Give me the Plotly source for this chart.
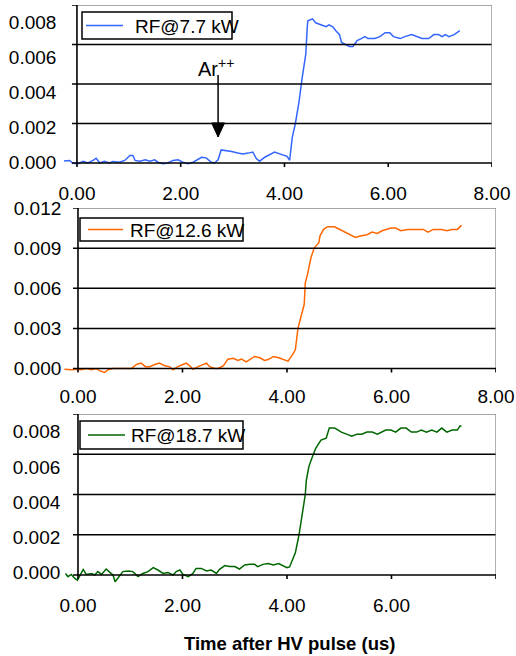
import plotly.graph_objects as go

# ---- data: signal vs. time after the HV pulse (us) ----
t_77 = [-0.25, -0.14, -0.08, 0.02, 0.12, 0.21, 0.31, 0.37, 0.44, 0.53, 0.63, 0.69, 0.82, 0.92,
        1.02, 1.08, 1.12, 1.21, 1.32, 1.40, 1.50, 1.56, 1.66, 1.75, 1.85, 1.95, 2.04, 2.14,
        2.24, 2.33, 2.40, 2.49, 2.59, 2.65, 2.72, 2.78, 2.88, 2.98, 3.10, 3.20, 3.30, 3.39,
        3.46, 3.52, 3.62, 3.71, 3.81, 3.91, 4.00, 4.05, 4.10, 4.15, 4.21, 4.28, 4.34, 4.41,
        4.44, 4.45, 4.54, 4.60, 4.70, 4.80, 4.86, 4.93, 4.99, 5.06, 5.10, 5.19, 5.25, 5.32,
        5.40, 5.48, 5.55, 5.61, 5.74, 5.84, 5.94, 6.03, 6.10, 6.23, 6.32, 6.45, 6.55, 6.65,
        6.78, 6.88, 6.97, 7.04, 7.10, 7.17, 7.27, 7.33, 7.38]
s_77 = [0.00010, 0.00013, -0.00001, -0.00004, 0.00008, 0.00000, 0.00013, 0.00024, 0.00000,
        0.00009, 0.00000, 0.00008, 0.00004, 0.00013, 0.00038, 0.00038, 0.00013, 0.00009,
        0.00016, 0.00009, 0.00016, 0.00004, -0.00004, 0.00000, 0.00013, 0.00016, 0.00004,
        -0.00004, 0.00004, 0.00016, 0.00029, 0.00026, 0.00004, 0.00000, 0.00016, 0.00066,
        0.00063, 0.00058, 0.00051, 0.00046, 0.00050, 0.00055, 0.00021, 0.00009, 0.00029,
        0.00041, 0.00055, 0.00046, 0.00040, 0.00034, 0.00014, 0.00130, 0.00200, 0.00310,
        0.00430, 0.00550, 0.00690, 0.00720, 0.00730, 0.00710, 0.00700, 0.00690, 0.00700,
        0.00690, 0.00670, 0.00650, 0.00610, 0.00600, 0.00590, 0.00590, 0.00620, 0.00630,
        0.00640, 0.00630, 0.00630, 0.00640, 0.00660, 0.00660, 0.00640, 0.00630, 0.00640,
        0.00650, 0.00640, 0.00630, 0.00630, 0.00650, 0.00650, 0.00640, 0.00650, 0.00640,
        0.00650, 0.00660, 0.00670]

t_126 = [-0.26, -0.13, -0.03, 0.06, 0.16, 0.26, 0.35, 0.41, 0.51, 0.57, 0.67, 0.80, 1.02,
         1.12, 1.21, 1.29, 1.37, 1.47, 1.56, 1.66, 1.75, 1.82, 1.91, 2.01, 2.07, 2.14, 2.20,
         2.30, 2.36, 2.46, 2.52, 2.62, 2.68, 2.78, 2.87, 2.97, 3.06, 3.13, 3.22, 3.29, 3.38,
         3.48, 3.57, 3.64, 3.74, 3.84, 3.93, 4.02, 4.10, 4.16, 4.21, 4.26, 4.33, 4.35, 4.39,
         4.46, 4.52, 4.61, 4.63, 4.70, 4.78, 4.91, 5.01, 5.11, 5.21, 5.31, 5.40, 5.53, 5.63,
         5.73, 5.82, 5.92, 5.99, 6.08, 6.18, 6.31, 6.44, 6.61, 6.70, 6.80, 6.90, 6.96, 7.06,
         7.16, 7.26, 7.34]
s_126 = [-0.00006, -0.00010, -0.00006, -0.00010, 0.00000, -0.00010, 0.00000, -0.00016,
         -0.00030, -0.00010, 0.00000, 0.00000, 0.00000, 0.00030, 0.00040, 0.00014, 0.00014,
         0.00030, 0.00040, 0.00020, 0.00014, -0.00010, 0.00014, 0.00030, 0.00040, 0.00020,
         -0.00006, 0.00014, 0.00026, 0.00040, 0.00014, 0.00000, 0.00000, 0.00020, 0.00070,
         0.00076, 0.00060, 0.00070, 0.00050, 0.00070, 0.00090, 0.00080, 0.00060, 0.00067,
         0.00090, 0.00080, 0.00067, 0.00055, 0.00100, 0.00140, 0.00300, 0.00370, 0.00480,
         0.00640, 0.00700, 0.00830, 0.00900, 0.00940, 0.00990, 0.01040, 0.01060, 0.01060,
         0.01040, 0.01020, 0.01000, 0.00980, 0.00990, 0.01000, 0.01020, 0.01010, 0.01030,
         0.01040, 0.01050, 0.01050, 0.01030, 0.01040, 0.01040, 0.01040, 0.01020, 0.01040,
         0.01040, 0.01040, 0.01030, 0.01040, 0.01040, 0.01070]

t_187 = [-0.24, -0.19, -0.13, -0.06, -0.01, 0.06, 0.10, 0.16, 0.26, 0.32, 0.38, 0.45, 0.54,
         0.61, 0.67, 0.71, 0.77, 0.86, 0.96, 1.05, 1.15, 1.24, 1.34, 1.44, 1.53, 1.63, 1.72,
         1.82, 1.88, 1.95, 2.01, 2.11, 2.20, 2.26, 2.36, 2.46, 2.55, 2.65, 2.71, 2.81, 2.90,
         3.00, 3.09, 3.19, 3.29, 3.38, 3.44, 3.54, 3.64, 3.74, 3.84, 3.93, 4.00, 4.05, 4.10,
         4.16, 4.23, 4.29, 4.35, 4.37, 4.42, 4.49, 4.55, 4.65, 4.75, 4.81, 4.91, 4.98, 5.04,
         5.14, 5.24, 5.34, 5.43, 5.53, 5.63, 5.73, 5.82, 5.89, 5.99, 6.08, 6.18, 6.28, 6.38,
         6.48, 6.57, 6.67, 6.77, 6.87, 6.96, 7.06, 7.16, 7.26, 7.31, 7.34]
s_187 = [0.00008, -0.00008, 0.00003, -0.00017, -0.00025, 0.00008, 0.00028, 0.00003, 0.00008,
         0.00000, 0.00017, 0.00003, 0.00030, 0.00013, 0.00000, -0.00033, -0.00013, 0.00017,
         0.00020, 0.00017, -0.00008, 0.00008, 0.00017, 0.00037, 0.00025, 0.00008, 0.00013,
         0.00000, 0.00017, 0.00025, 0.00003, -0.00008, 0.00008, 0.00033, 0.00033, 0.00020,
         0.00025, 0.00008, 0.00028, 0.00047, 0.00042, 0.00042, 0.00030, 0.00050, 0.00053,
         0.00053, 0.00042, 0.00053, 0.00057, 0.00050, 0.00057, 0.00045, 0.00037, 0.00040,
         0.00074, 0.00110, 0.00200, 0.00310, 0.00400, 0.00470, 0.00540, 0.00590, 0.00630,
         0.00670, 0.00680, 0.00730, 0.00730, 0.00720, 0.00710, 0.00700, 0.00690, 0.00700,
         0.00700, 0.00710, 0.00710, 0.00700, 0.00710, 0.00720, 0.00720, 0.00710, 0.00730,
         0.00730, 0.00710, 0.00710, 0.00720, 0.00710, 0.00720, 0.00710, 0.00730, 0.00710,
         0.00720, 0.00720, 0.00740, 0.00740]

x_ticks = [0, 2, 4, 6, 8]
x_labels = ["0.00", "2.00", "4.00", "6.00", "8.00"]

W, H = 516, 656


def px(x):
    return x / W


def py(y):
    return 1 - y / H


# layout of the three stacked panels (paper fractions); "lab" is the range of the
# axis that carries the y tick labels, which sit slightly off the gridline spacing
panels = [
    dict(name="RF@7.7 kW", t=t_77, s=s_77, color="#3366FF",
         yticks=[0, 0.002, 0.004, 0.006, 0.008], ymin=-0.00035,
         xdom=[px(61.4), px(492)], ydom=[py(169.9), py(5)],
         lab=[-0.00041, 0.008986], nlabels=5, xstand=10, ystand=4,
         leg=dict(box=(82, 12, 232, 39), line=(86, 123), tx=133)),
    dict(name="RF@12.6 kW", t=t_126, s=s_126, color="#FF6600",
         yticks=[0, 0.003, 0.006, 0.009, 0.012], ymin=-0.0004,
         xdom=[px(62.3), px(496)], ydom=[py(373.85), py(208)],
         lab=None, nlabels=5, xstand=9, ystand=0,
         leg=dict(box=(80, 218, 243, 241), line=(88, 123), tx=128)),
    dict(name="RF@18.7 kW", t=t_187, s=s_187, color="#006600",
         yticks=[0, 0.002, 0.004, 0.006, 0.008], ymin=-0.0005,
         xdom=[px(62.3), px(496)], ydom=[py(585.1), py(414)],
         lab=[-0.000704, 0.009004], nlabels=4, xstand=7, ystand=1,
         leg=dict(box=(80, 421, 243, 449), line=(88, 125), tx=129)),
]

FONT = "Liberation Sans, Arial, sans-serif"
BLACK = "#000000"
GREY = "#888888"

fig = go.Figure()
shapes = []
annotations = []
layout = dict(
    template="none",
    width=W, height=H, paper_bgcolor="white", plot_bgcolor="white",
    margin=dict(l=0, r=0, t=0, b=0, pad=0), font=dict(family=FONT, size=19, color=BLACK),
    showlegend=False,
)

for i, p in enumerate(panels, start=1):
    sfx = "" if i == 1 else str(i)
    xr, yr = "x" + sfx, "y" + sfx
    fig.add_trace(go.Scatter(
        x=p["t"], y=p["s"], mode="lines", name=p["name"],
        line=dict(color=p["color"], width=1.5), xaxis=xr, yaxis=yr,
    ))
    ymax = p["yticks"][-1]
    n = p["nlabels"]
    layout["xaxis" + sfx] = dict(
        domain=p["xdom"], range=[-0.3, 8], anchor=yr, automargin=False,
        showgrid=False, zeroline=False, showline=False, ticks="",
        tickvals=x_ticks[:n], ticktext=x_labels[:n], ticklabelstandoff=p["xstand"],
        tickfont=dict(size=19), fixedrange=True,
    )
    yax = dict(
        domain=p["ydom"], range=[p["ymin"], ymax], anchor=xr, automargin=False,
        showgrid=False, zeroline=False, showline=False, ticks="",
        tickvals=p["yticks"], tickformat=".3f", ticklabelstandoff=p["ystand"],
        tickfont=dict(size=19), fixedrange=True,
    )
    if p["lab"] is not None:
        # labels carried by an overlaid axis; the data axis keeps the gridline scale
        yax["showticklabels"] = False
        lab_name = "y" + str(i + 3)
        layout["yaxis" + str(i + 3)] = dict(
            overlaying=yr, anchor=xr, side="left", range=p["lab"], automargin=False,
            showgrid=False, zeroline=False, showline=False, ticks="",
            tickvals=p["yticks"], tickformat=".3f", ticklabelstandoff=p["ystand"],
            tickfont=dict(size=19), fixedrange=True,
        )
        fig.add_trace(go.Scatter(x=[None], y=[None], mode="lines", xaxis=xr, yaxis=lab_name,
                                 hoverinfo="skip", showlegend=False))
    layout["yaxis" + sfx] = yax

    # horizontal gridlines inside the frame
    for v in p["yticks"][1:-1]:
        shapes.append(dict(type="line", xref=xr, yref=yr, x0=0, x1=8, y0=v, y1=v,
                           line=dict(color=BLACK, width=1.5)))
    # grey top and right frame
    shapes.append(dict(type="line", xref=xr, yref=yr, x0=0, x1=8, y0=ymax, y1=ymax,
                       line=dict(color=GREY, width=1.3)))
    shapes.append(dict(type="line", xref=xr, yref=yr, x0=8, x1=8, y0=0, y1=ymax,
                       line=dict(color=GREY, width=1.3)))
    # black axes crossing at the origin
    shapes.append(dict(type="line", xref=xr, yref=yr, x0=0, x1=0, y0=0, y1=ymax,
                       line=dict(color=BLACK, width=1.6)))
    shapes.append(dict(type="line", xref=xr, yref=yr, x0=0, x1=8, y0=0, y1=0,
                       line=dict(color=BLACK, width=1.6)))
    # tick marks
    for v in p["yticks"]:
        shapes.append(dict(type="line", xref=xr, yref=yr, xsizemode="pixel", xanchor=0,
                           x0=-5, x1=0, y0=v, y1=v, line=dict(color=BLACK, width=1.5)))
    for v in x_ticks:
        shapes.append(dict(type="line", xref=xr, yref=yr, ysizemode="pixel", yanchor=0,
                           x0=v, x1=v, y0=0, y1=-4, line=dict(color=BLACK, width=1.6)))

    # legend box with line sample and series name
    lg = p["leg"]
    bx0, by0, bx1, by1 = lg["box"]
    ymid = (by0 + by1) / 2
    shapes.append(dict(type="rect", xref="paper", yref="paper",
                       x0=px(bx0), x1=px(bx1), y0=py(by1), y1=py(by0),
                       fillcolor="white", line=dict(color=BLACK, width=1.5), layer="above"))
    shapes.append(dict(type="line", xref="paper", yref="paper",
                       x0=px(lg["line"][0]), x1=px(lg["line"][1]), y0=py(ymid), y1=py(ymid),
                       line=dict(color=p["color"], width=1.5), layer="above"))
    annotations.append(dict(xref="paper", yref="paper", x=px(lg["tx"]), y=py(ymid + 0.5),
                            text=p["name"], showarrow=False, xanchor="left", yanchor="middle",
                            font=dict(size=19, family=FONT)))

# Ar++ marker pointing at the onset on the 7.7 kW trace
AR_T = 2.72
AR_TAIL, AR_TIP = 0.00446, 0.00132
shapes.append(dict(type="line", xref="x", yref="y", x0=AR_T, x1=AR_T, y0=AR_TAIL, y1=AR_TIP,
                   line=dict(color=BLACK, width=1.5)))
shapes.append(dict(type="path", xref="x", yref="y", xsizemode="pixel", ysizemode="pixel",
                   xanchor=AR_T, yanchor=AR_TIP, path="M-6.5,14 L6.5,14 L0,0 Z",
                   fillcolor=BLACK, line=dict(color=BLACK, width=1)))
annotations.append(dict(xref="x", yref="y", x=2.68, y=0.00481, text="Ar<sup>++</sup>",
                        showarrow=False, xanchor="center", yanchor="middle",
                        font=dict(size=20, family=FONT)))

# shared x-axis title
annotations.append(dict(xref="paper", yref="paper", x=0.562, y=0.0198,
                        text="<b>Time after HV pulse (us)</b>", showarrow=False,
                        xanchor="center", yanchor="middle", font=dict(size=18.5, family=FONT)))

layout["shapes"] = shapes
layout["annotations"] = annotations
fig.update_layout(**layout)
fig.write_html("out.html")
